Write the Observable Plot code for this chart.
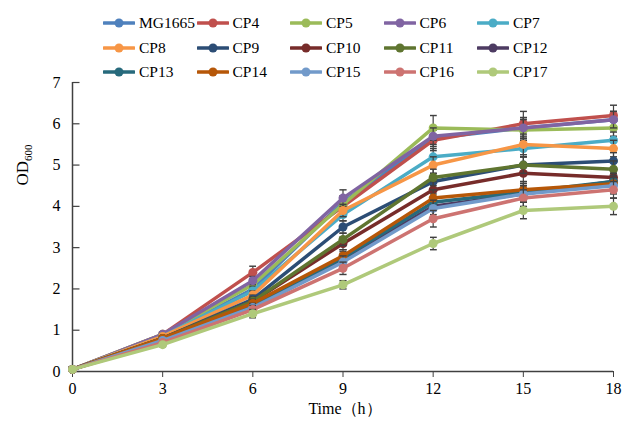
<!DOCTYPE html>
<html><head><meta charset="utf-8">
<script src="https://cdn.jsdelivr.net/npm/d3@7"></script>
<script src="https://cdn.jsdelivr.net/npm/@observablehq/plot@0.6"></script>
<style>
body{margin:0;background:#fff;}
#wrap{position:relative;width:629px;height:427px;font-family:"Liberation Serif","Tinos","Times New Roman","DejaVu Serif",serif;}
#legend{position:absolute;left:103px;top:11px;display:grid;grid-template-columns:repeat(5,93.5px);grid-auto-rows:24.5px;z-index:2;}
.item{display:flex;align-items:center;font-size:15.5px;color:#000;white-space:nowrap;font-family:"Liberation Serif","Tinos","Times New Roman","DejaVu Serif",serif;}
.item svg{margin-right:4px;flex:none;}
#chart svg text{font-family:"Liberation Serif","Tinos","Times New Roman","DejaVu Serif",serif;}
</style></head><body><div id="wrap"><div id="legend"></div><div id="chart"></div></div>
<script>
const times = [0, 3, 6, 9, 12, 15, 18];
const yTicks = [0, 1, 2, 3, 4, 5, 6, 7];
const seriesNames = ["MG1665","CP4","CP5","CP6","CP7","CP8","CP9","CP10","CP11","CP12","CP13","CP14","CP15","CP16","CP17"];
const colors = ["#4F81BD","#C0504D","#9BBB59","#8064A2","#4BACC6","#F79646","#2C4D75","#772C2A","#5F7530","#4D3B62","#276A7C","#B65708","#729ACA","#CD7371","#AFC97A"];

const MG1665 = [0.05, 0.85, 2.00, 4.10, 5.65, 5.90, 6.10];
const CP4    = [0.05, 0.90, 2.40, 4.00, 5.60, 6.00, 6.20];
const CP5    = [0.05, 0.90, 2.10, 4.05, 5.90, 5.85, 5.90];
const CP6    = [0.05, 0.90, 2.20, 4.20, 5.70, 5.90, 6.10];
const CP7    = [0.05, 0.85, 1.95, 3.80, 5.20, 5.40, 5.60];
const CP8    = [0.05, 0.85, 1.85, 3.90, 5.00, 5.50, 5.40];
const CP9    = [0.05, 0.80, 1.75, 3.50, 4.60, 5.00, 5.10];
const CP10   = [0.05, 0.80, 1.70, 3.10, 4.40, 4.80, 4.70];
const CP11   = [0.05, 0.80, 1.70, 3.20, 4.70, 5.00, 4.90];
const CP12   = [0.05, 0.75, 1.60, 2.70, 4.00, 4.30, 4.60];
const CP13   = [0.05, 0.75, 1.60, 2.75, 4.10, 4.35, 4.60];
const CP14   = [0.05, 0.80, 1.65, 2.80, 4.20, 4.40, 4.55];
const CP15   = [0.05, 0.75, 1.55, 2.65, 3.95, 4.30, 4.50];
const CP16   = [0.05, 0.70, 1.50, 2.50, 3.70, 4.20, 4.40];
const CP17   = [0.05, 0.65, 1.40, 2.10, 3.10, 3.90, 4.00];
const seriesValues = [MG1665,CP4,CP5,CP6,CP7,CP8,CP9,CP10,CP11,CP12,CP13,CP14,CP15,CP16,CP17];

const errMG1665 = [0, 0.05, 0.10, 0.15, 0.20, 0.25, 0.20];
const errCP4    = [0, 0.05, 0.15, 0.15, 0.25, 0.30, 0.25];
const errCP5    = [0, 0.05, 0.10, 0.20, 0.30, 0.25, 0.20];
const errCP6    = [0, 0.05, 0.10, 0.20, 0.20, 0.25, 0.20];
const errCP7    = [0, 0.05, 0.10, 0.15, 0.20, 0.20, 0.20];
const errCP8    = [0, 0.05, 0.10, 0.15, 0.20, 0.25, 0.20];
const errCP9    = [0, 0.05, 0.10, 0.15, 0.20, 0.20, 0.20];
const errCP10   = [0, 0.05, 0.10, 0.15, 0.20, 0.20, 0.20];
const errCP11   = [0, 0.05, 0.10, 0.15, 0.20, 0.20, 0.20];
const errCP12   = [0, 0.05, 0.10, 0.15, 0.20, 0.20, 0.20];
const errCP13   = [0, 0.05, 0.10, 0.15, 0.20, 0.20, 0.20];
const errCP14   = [0, 0.05, 0.10, 0.15, 0.20, 0.20, 0.20];
const errCP15   = [0, 0.05, 0.10, 0.15, 0.20, 0.20, 0.20];
const errCP16   = [0, 0.05, 0.10, 0.15, 0.20, 0.20, 0.20];
const errCP17   = [0, 0.05, 0.10, 0.10, 0.15, 0.20, 0.20];
const seriesErrors = [errMG1665,errCP4,errCP5,errCP6,errCP7,errCP8,errCP9,errCP10,errCP11,errCP12,errCP13,errCP14,errCP15,errCP16,errCP17];

const FONT = "'Liberation Serif','Tinos','Times New Roman','DejaVu Serif',serif";

// legend
const legend = document.getElementById("legend");
seriesNames.forEach((name, i) => {
  const item = document.createElement("div");
  item.className = "item";
  item.innerHTML = `<svg width="32" height="12"><line x1="1" x2="31" y1="6" y2="6" stroke="${colors[i]}" stroke-width="3.5" stroke-linecap="round"/><circle cx="16" cy="6" r="4.5" fill="${colors[i]}"/></svg><span>${name}</span>`;
  legend.appendChild(item);
});

const rows = seriesNames.map((name, i) => times.map((t, j) => ({name, t, v: seriesValues[i][j], e: seriesErrors[i][j]})));

const inTick = {draw(context) { context.moveTo(0, 0); context.lineTo(7, 0); }};

const marks = [
  Plot.axisX({ticks: times, tickSize: 6, tickPadding: 5, fontSize: 16, label: null, stroke: "#404040", tickFormat: d => String(d)}),
  Plot.axisY({ticks: yTicks, tickSize: 0, tickPadding: 12, fontSize: 16, label: null, tickFormat: d => String(d)}),
  Plot.dot(yTicks, {x: 0, y: d => d, symbol: inTick, stroke: "#404040", strokeWidth: 1.2, fill: "none"}),
  Plot.ruleX([0], {stroke: "#404040", strokeWidth: 1.5}),
  Plot.ruleY([0], {stroke: "#404040", strokeWidth: 1.5})
];
rows.forEach((r, i) => {
  marks.push(Plot.link(r.filter(d => d.e > 0), {x1: "t", x2: "t", y1: d => d.v - d.e, y2: d => d.v + d.e, stroke: "#404040", strokeWidth: 1.2, markerStart: "tick", markerEnd: "tick"}));
  marks.push(Plot.line(r, {x: "t", y: "v", stroke: colors[i], strokeWidth: 3.5}));
  marks.push(Plot.dot(r, {x: "t", y: "v", r: 4.5, fill: colors[i]}));
});

const chart = Plot.plot({
  width: 629,
  height: 427,
  marginTop: 82,
  marginBottom: 56,
  marginLeft: 72,
  marginRight: 16,
  style: {fontFamily: FONT, fontSize: "16px", color: "#000", background: "#fff"},
  x: {domain: [0, 18]},
  y: {domain: [0, 7]},
  marks
});
document.getElementById("chart").appendChild(chart);

const svg = d3.select(chart);
const yl = svg.append("text")
  .attr("transform", "translate(28,165) rotate(-90)")
  .attr("text-anchor", "middle")
  .attr("font-size", 17)
  .attr("fill", "#000")
  .attr("font-family", FONT);
yl.append("tspan").text("OD");
yl.append("tspan").attr("font-size", 11).attr("dy", 4).text("600");
svg.append("text")
  .attr("x", 345).attr("y", 414)
  .attr("text-anchor", "middle")
  .attr("font-size", 16)
  .attr("fill", "#000")
  .attr("font-family", FONT)
  .text("Time（h）");
</script></body></html>
